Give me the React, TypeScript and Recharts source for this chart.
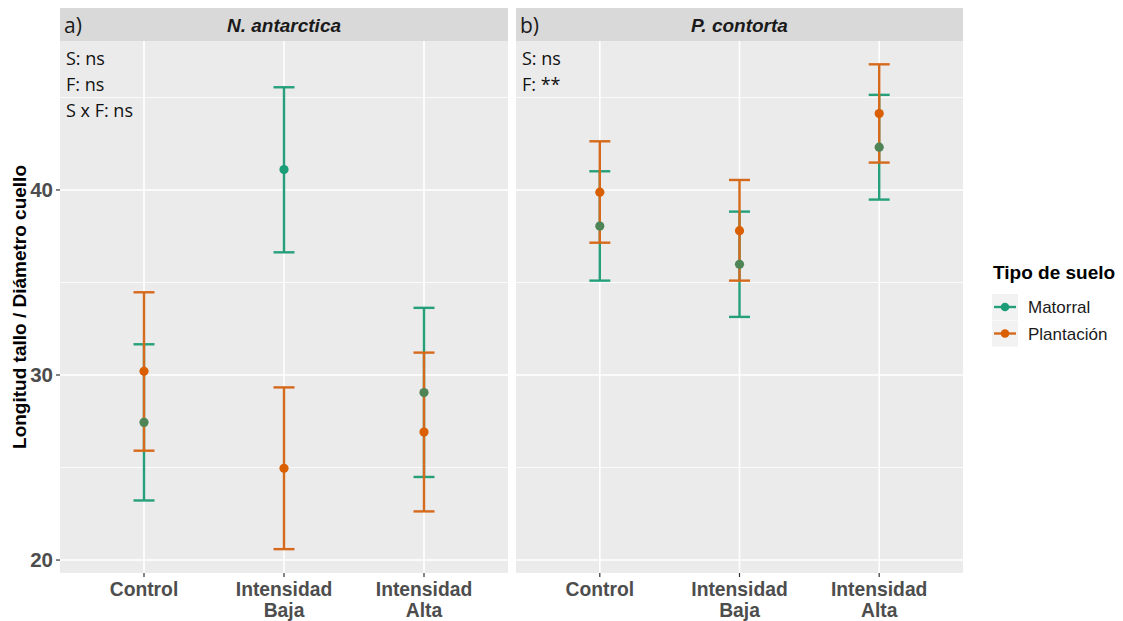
import React from "react";
import { ScatterChart, Scatter, XAxis, YAxis, CartesianGrid, ErrorBar } from "recharts";

// ---- data ----
const categories = ["Control", "Intensidad Baja", "Intensidad Alta"];
const xTickLines = [["Control"], ["Intensidad", "Baja"], ["Intensidad", "Alta"]];
const yTicks = [20, 30, 40];
const yMinorTicks = [25, 35, 45];

// Panel a) N. antarctica
const aMatorralMean = [27.44, 41.1, 29.05];
const aMatorralLow = [23.22, 36.63, 24.49];
const aMatorralHigh = [31.66, 45.55, 33.63];
const aPlantMean = [30.2, 24.96, 26.92];
const aPlantLow = [25.91, 20.59, 22.63];
const aPlantHigh = [34.47, 29.33, 31.21];

// Panel b) P. contorta
const bMatorralMean = [38.05, 35.98, 42.31];
const bMatorralLow = [35.1, 33.14, 39.48];
const bMatorralHigh = [41.01, 38.83, 45.14];
const bPlantMean = [39.88, 37.8, 44.13];
const bPlantLow = [37.15, 35.1, 41.48];
const bPlantHigh = [42.63, 40.54, 46.79];

const panelATitle = "N. antarctica";
const panelBTitle = "P. contorta";
const panelATag = "a)";
const panelBTag = "b)";
const panelANotes = ["S: ns", "F: ns", "S x F: ns"];
const panelBNotes = ["S: ns", "F: **"];
const yTitle = "Longitud tallo / Diámetro cuello";
const legendTitle = "Tipo de suelo";
const seriesNames = ["Matorral", "Plantación"];

// ---- styles ----
const GREEN = "#1b9e77";
const GREEN_LINE = "#25a07a";
const ORANGE = "#d95f02";
const ORANGE_LINE = "#d56a1c";
const OLIVE = "#4f8456";
const PANEL_BG = "#ebebeb";
const STRIP_BG = "#d9d9d9";
const AXIS_TEXT = "#4d4d4d";
const ARIAL = "'Liberation Sans', Arial, sans-serif";
const SANS = "'Open Sans', 'Noto Sans', sans-serif";
const Y_DOMAIN: [number, number] = [19.3, 48.05];

function build(mean: number[], low: number[], high: number[], other?: { low: number[]; high: number[] }) {
  return mean.map((m, i) => ({
    x: i + 1,
    y: m,
    err: [m - low[i], high[i] - m],
    covered: other ? m >= other.low[i] && m <= other.high[i] : false,
  }));
}

const XTick = (props: any) => {
  const { x, y, payload } = props;
  const lines = xTickLines[payload.value - 1] || [categories[payload.value - 1]];
  return (
    <g>
      {lines.map((l, i) => (
        <text
          key={i}
          x={x}
          y={y + 16 + i * 21}
          textAnchor="middle"
          fill={AXIS_TEXT}
          fontSize={19.3}
          fontWeight={700}
          fontFamily={ARIAL}
        >
          {l}
        </text>
      ))}
    </g>
  );
};

const Empty = () => <g />;

const Dot = (color: string) => (props: any) => {
  const { cx, cy } = props;
  return <circle cx={cx} cy={cy} r={4.6} fill={color} />;
};

const GreenDot = (props: any) => {
  const { cx, cy, payload } = props;
  return <circle cx={cx} cy={cy} r={4.6} fill={payload && payload.covered ? OLIVE : GREEN} />;
};

function Panel({
  width,
  showY,
  mat,
  pla,
}: {
  width: number;
  showY: boolean;
  mat: any[];
  pla: any[];
}) {
  return (
    <ScatterChart width={width} height={621} margin={{ top: 41, right: 0, bottom: 0, left: 0 }}>
      <CartesianGrid
        fill={PANEL_BG}
        stroke="#ffffff"
        strokeWidth={0.8}
        vertical={false}
        horizontalValues={yMinorTicks}
      />
      <CartesianGrid stroke="#ffffff" strokeWidth={1.6} horizontalValues={yTicks} verticalValues={[1, 2, 3]} />
      <XAxis
        type="number"
        dataKey="x"
        domain={[0.4, 3.6]}
        ticks={[1, 2, 3]}
        allowDataOverflow
        height={48}
        axisLine={false}
        tickLine={{ stroke: "#333333", strokeWidth: 1.2 }}
        tickSize={4}
        tickMargin={3}
        tick={<XTick />}
        interval={0}
      />
      <YAxis
        type="number"
        dataKey="y"
        domain={Y_DOMAIN}
        ticks={yTicks}
        allowDataOverflow
        width={showY ? 60 : 0}
        hide={!showY}
        axisLine={false}
        tickLine={{ stroke: "#333333", strokeWidth: 1.2 }}
        tickSize={4}
        tickMargin={3}
        tick={{ fill: AXIS_TEXT, fontSize: 20.5, fontWeight: 700, fontFamily: ARIAL }}
      />
      <Scatter data={mat} shape={Empty} isAnimationActive={false} fill={GREEN}>
        <ErrorBar dataKey="err" direction="y" width={10.5} stroke={GREEN_LINE} strokeWidth={2.4} isAnimationActive={false} />
      </Scatter>
      <Scatter data={pla} shape={Dot(ORANGE)} isAnimationActive={false} fill={ORANGE}>
        <ErrorBar dataKey="err" direction="y" width={10.5} stroke={ORANGE_LINE} strokeWidth={2.4} isAnimationActive={false} />
      </Scatter>
      <Scatter data={mat} shape={GreenDot} isAnimationActive={false} fill={GREEN} />
    </ScatterChart>
  );
}

export default function App() {
  const aMat = build(aMatorralMean, aMatorralLow, aMatorralHigh, { low: aPlantLow, high: aPlantHigh });
  const aPla = build(aPlantMean, aPlantLow, aPlantHigh);
  const bMat = build(bMatorralMean, bMatorralLow, bMatorralHigh, { low: bPlantLow, high: bPlantHigh });
  const bPla = build(bPlantMean, bPlantLow, bPlantHigh);

  return (
    <div style={{ position: "absolute", left: 0, top: 0, width: 1123, height: 621, background: "#ffffff", overflow: "hidden" }}>
      <div style={{ position: "absolute", left: 0, top: 0 }}>
        <Panel width={508} showY={true} mat={aMat} pla={aPla} />
      </div>
      <div style={{ position: "absolute", left: 516, top: 0 }}>
        <Panel width={447} showY={false} mat={bMat} pla={bPla} />
      </div>
      <svg width={1123} height={621} style={{ position: "absolute", left: 0, top: 0, pointerEvents: "none" }}>
        {/* strips */}
        <rect x={60} y={8} width={448} height={33} fill={STRIP_BG} />
        <rect x={516} y={8} width={447} height={33} fill={STRIP_BG} />
        <text x={284} y={32} textAnchor="middle" fontFamily={ARIAL} fontWeight={700} fontStyle="italic" fontSize={19} fill="#1a1a1a">
          {panelATitle}
        </text>
        <text x={739.5} y={32} textAnchor="middle" fontFamily={ARIAL} fontWeight={700} fontStyle="italic" fontSize={19} fill="#1a1a1a">
          {panelBTitle}
        </text>
        <text x={64} y={33} fontFamily={SANS} fontSize={21} fill="#1a1a1a">
          {panelATag}
        </text>
        <text x={520} y={33} fontFamily={SANS} fontSize={21} fill="#1a1a1a">
          {panelBTag}
        </text>
        {/* annotations */}
        {panelANotes.map((t, i) => (
          <text key={"a" + i} x={66} y={65 + i * 26} fontFamily={SANS} fontSize={18} fill="#111111">
            {t}
          </text>
        ))}
        {panelBNotes.map((t, i) => (
          <text key={"b" + i} x={522} y={65 + i * 26} fontFamily={SANS} fontSize={18} fill="#111111">
            {t}
          </text>
        ))}
        {/* y title */}
        <text
          x={19}
          y={307}
          transform="rotate(-90 19 307)"
          textAnchor="middle"
          dominantBaseline="central"
          fontFamily={ARIAL}
          fontWeight={700}
          fontSize={19}
          fill="#000000"
        >
          {yTitle}
        </text>
        {/* legend */}
        <text x={993} y={279} fontFamily={ARIAL} fontWeight={700} fontSize={19} fill="#000000">
          {legendTitle}
        </text>
        {seriesNames.map((n, i) => {
          const cy = 307 + i * 26.5;
          const c = i === 0 ? GREEN : ORANGE;
          const cl = i === 0 ? GREEN_LINE : ORANGE_LINE;
          return (
            <g key={n}>
              <rect x={992} y={cy - 13} width={26} height={26} fill="#f2f2f2" />
              <line x1={994} x2={1016} y1={cy} y2={cy} stroke={cl} strokeWidth={2.4} />
              <circle cx={1005} cy={cy} r={4.3} fill={c} />
              <text x={1028} y={cy + 6} fontFamily={ARIAL} fontSize={17} fill="#1a1a1a">
                {n}
              </text>
            </g>
          );
        })}
      </svg>
    </div>
  );
}
